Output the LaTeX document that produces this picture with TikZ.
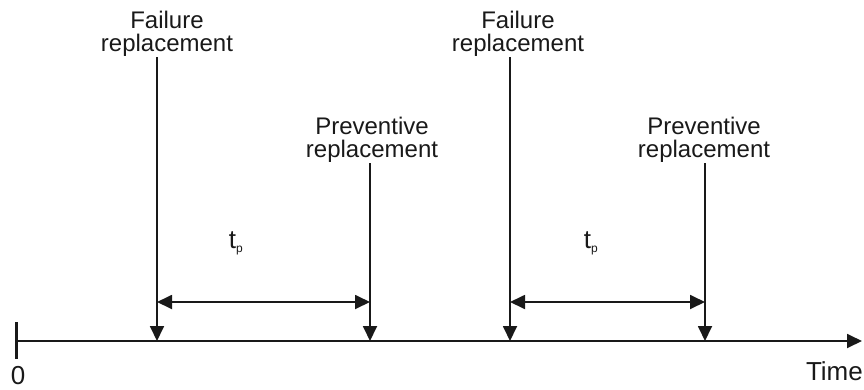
\documentclass[tikz,border=0pt]{standalone}
\usepackage{fontspec}
\setmainfont{Liberation Sans}
\usetikzlibrary{arrows.meta}
\begin{document}
\begin{tikzpicture}[x=1pt,y=-1pt,
  line/.style={line width=1.8pt,draw=black!90},
  tip/.style={-{Triangle[length=15pt,width=14pt]}},
  dbl/.style={{Triangle[length=15pt,width=14pt]}-{Triangle[length=15pt,width=14pt]}},
  lbl/.style={font=\fontsize{24}{23}\selectfont,align=center,inner sep=0pt,text=black!90},
  sub/.style={font=\fontsize{26}{26}\selectfont,inner sep=0pt,text=black!90}]
\useasboundingbox (0,0) rectangle (864,389);

% time axis
\coordinate (origin) at (16,341);
\coordinate (tend) at (862,341);
\draw[line,tip] (origin) -- (tend);
\draw[line width=3pt,draw=black!90] (16,322) -- (16,359);
\node[sub,anchor=north] (zero) at (18,366) {0};
\node[sub,anchor=north east] (time) at (863,361) {Time};

% replacement instants on the axis
\coordinate (f1) at (157,341);
\coordinate (p1) at (370,341);
\coordinate (f2) at (510,341);
\coordinate (p2) at (705,341);

% event labels
\node[lbl,anchor=south] (lf1) at (167,57) {Failure\\replacement};
\node[lbl,anchor=south] (lp1) at (372,163) {Preventive\\replacement};
\node[lbl,anchor=south] (lf2) at (518,57) {Failure\\replacement};
\node[lbl,anchor=south] (lp2) at (704,163) {Preventive\\replacement};

% event arrows
\draw[line,tip] (f1 |- lf1.south) -- (f1);
\draw[line,tip] (p1 |- lp1.south) -- (p1);
\draw[line,tip] (f2 |- lf2.south) -- (f2);
\draw[line,tip] (p2 |- lp2.south) -- (p2);

% preventive intervals
\coordinate (a1) at (157,302);
\coordinate (b1) at (370,302);
\coordinate (a2) at (510,302);
\coordinate (b2) at (705,302);
\draw[line,dbl] (a1) -- (b1);
\draw[line,dbl] (a2) -- (b2);
\node[sub] (tp1) at (236,243) {t\textsubscript{\fontsize{12}{12}\selectfont p}};
\node[sub] (tp2) at (591,243) {t\textsubscript{\fontsize{12}{12}\selectfont p}};
\end{tikzpicture}
\end{document}
